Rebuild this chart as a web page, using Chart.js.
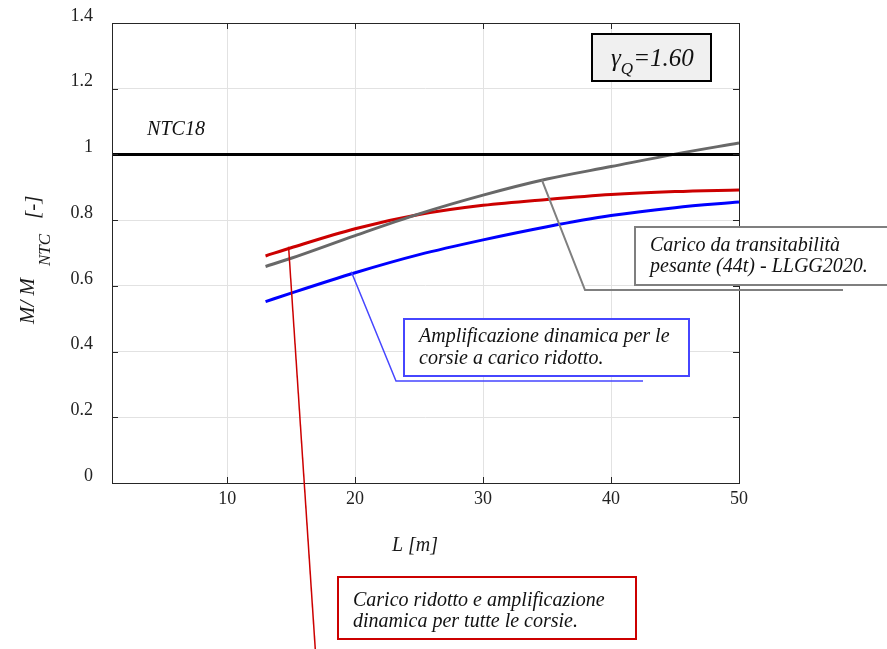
<!DOCTYPE html>
<html>
<head>
<meta charset="utf-8">
<script src="https://cdn.jsdelivr.net/npm/chart.js@4.4.1/dist/chart.umd.min.js"></script>
<style>
  html, body { margin: 0; padding: 0; background: #ffffff; }
  #wrap { width: 887px; height: 649px; position: relative; }
</style>
</head>
<body>
<div id="wrap"><canvas id="c" width="887" height="649"></canvas></div>
<script>
// ---- data ----
const spanL = [13, 15, 20, 25, 30, 35, 40, 45, 50];
const redSeries  = [0.691, 0.716, 0.774, 0.817, 0.845, 0.863, 0.878, 0.887, 0.892];
const graySeries = [0.659, 0.684, 0.753, 0.819, 0.876, 0.925, 0.963, 1.001, 1.035];
const blueSeries = [0.552, 0.578, 0.640, 0.695, 0.740, 0.780, 0.814, 0.838, 0.855];
const ntcLevel = 1.0;
const xRange = [1, 50];
const yRange = [0, 1.4];
const xTicks = [10, 20, 30, 40, 50];
const yTicks = [0, 0.2, 0.4, 0.6, 0.8, 1.0, 1.2, 1.4];

// annotation anchors (data coordinates on the curves)
const redAnchor  = [14.8, 0.719];
const blueAnchor = [19.7, 0.643];
const grayAnchor = [34.6, 0.922];

const redLabel  = ["Carico ridotto e amplificazione", "dinamica per tutte le corsie."];
const blueLabel = ["Amplificazione dinamica per le", "corsie a carico ridotto."];
const grayLabel = ["Carico da transitabilità", "pesante (44t) - LLGG2020."];
const ntcLabel = "NTC18";
const gammaLabel = ["γ", "Q", "=1.60"];
const xTitle = "L [m]";
const yTitle = ["M/ M", "NTC", "[-]"];

const SERIF = '"Liberation Serif", "Times New Roman", serif';
const RED = '#cc0000', GRAY = '#686868', BLUE = '#0000ff';

function pts(xs, ys) { return xs.map((x, i) => ({ x: x, y: ys[i] })); }

const overlay = {
  id: 'overlay',
  afterDatasetsDraw(chart) {
    const ctx = chart.ctx, a = chart.chartArea;
    const xs = chart.scales.x, ys = chart.scales.y;
    ctx.save();
    ctx.strokeStyle = '#262626';
    ctx.lineWidth = 1;
    ctx.strokeRect(Math.round(a.left) + 0.5, Math.round(a.top) + 0.5,
                   Math.round(a.right - a.left), Math.round(a.bottom - a.top));
    ctx.beginPath();
    xTicks.forEach(v => {
      const px = Math.round(xs.getPixelForValue(v)) + 0.5;
      ctx.moveTo(px, a.bottom); ctx.lineTo(px, a.bottom - 6);
      ctx.moveTo(px, a.top); ctx.lineTo(px, a.top + 6);
    });
    yTicks.forEach(v => {
      const py = Math.round(ys.getPixelForValue(v)) + 0.5;
      ctx.moveTo(a.left, py); ctx.lineTo(a.left + 6, py);
      ctx.moveTo(a.right, py); ctx.lineTo(a.right - 6, py);
    });
    ctx.stroke();
    ctx.restore();
  },
  afterDraw(chart) {
    const ctx = chart.ctx;
    const xs = chart.scales.x, ys = chart.scales.y;
    const P = (d) => [xs.getPixelForValue(d[0]), ys.getPixelForValue(d[1])];
    ctx.save();
    ctx.fillStyle = '#111';
    ctx.textBaseline = 'alphabetic';

    // NTC18 label
    ctx.font = 'italic 20px ' + SERIF;
    ctx.textAlign = 'center';
    ctx.fillText(ntcLabel, 176, 135);

    // x title
    ctx.fillStyle = '#1a1a1a';
    ctx.fillText(xTitle, 415, 551);

    // y title (rotated)
    ctx.save();
    ctx.translate(34, 324);
    ctx.rotate(-Math.PI / 2);
    ctx.textAlign = 'left';
    ctx.font = 'italic 21px ' + SERIF;
    ctx.fillText(yTitle[0], 0, 0);
    ctx.font = 'italic 17px ' + SERIF;
    ctx.fillText(yTitle[1], 58, 16);
    ctx.font = 'italic 21px ' + SERIF;
    ctx.fillText(yTitle[2], 105, 5);
    ctx.restore();

    // gamma box
    ctx.fillStyle = '#f0f0f0';
    ctx.fillRect(592, 34, 119, 47);
    ctx.strokeStyle = '#000';
    ctx.lineWidth = 2;
    ctx.strokeRect(592, 34, 119, 47);
    ctx.fillStyle = '#111';
    ctx.textAlign = 'left';
    ctx.font = 'italic 25px ' + SERIF;
    ctx.fillText(gammaLabel[0], 611, 66);
    let gw = ctx.measureText(gammaLabel[0]).width;
    ctx.font = 'italic 17px ' + SERIF;
    ctx.fillText(gammaLabel[1], 611 + gw, 74);
    let qw = ctx.measureText(gammaLabel[1]).width;
    ctx.font = 'italic 25px ' + SERIF;
    ctx.fillText(gammaLabel[2], 611 + gw + qw, 66);

    // leader lines
    ctx.lineWidth = 1.5;
    const rp = P(redAnchor);
    ctx.strokeStyle = RED;
    ctx.beginPath();
    ctx.moveTo(rp[0], rp[1]);
    ctx.lineTo(316, 660);
    ctx.stroke();
    const bp = P(blueAnchor);
    ctx.strokeStyle = '#4646ff';
    ctx.beginPath();
    ctx.moveTo(bp[0], bp[1]);
    ctx.lineTo(396, 381);
    ctx.lineTo(643, 381);
    ctx.stroke();
    const gp = P(grayAnchor);
    ctx.strokeStyle = '#7f7f7f';
    ctx.lineWidth = 2;
    ctx.beginPath();
    ctx.moveTo(gp[0], gp[1]);
    ctx.lineTo(585, 290);
    ctx.lineTo(843, 290);
    ctx.stroke();

    function box(x, y, w, h, color, lines, tx, ty, lh) {
      ctx.fillStyle = '#ffffff';
      ctx.fillRect(x, y, w, h);
      ctx.strokeStyle = color;
      ctx.lineWidth = 2;
      ctx.strokeRect(x, y, w, h);
      ctx.fillStyle = '#111';
      ctx.font = 'italic 20px ' + SERIF;
      ctx.textAlign = 'left';
      lines.forEach((s, i) => ctx.fillText(s, tx, ty + i * lh));
    }
    box(404, 319, 285, 57, '#4646ff', blueLabel, 419, 342, 22);
    box(635, 227, 260, 58, '#7f7f7f', grayLabel, 650, 251, 21);
    box(338, 577, 298, 62, RED, redLabel, 353, 606, 21);

    ctx.restore();
  }
};

new Chart(document.getElementById('c'), {
  type: 'line',
  data: {
    datasets: [
      { data: pts(xRange, [ntcLevel, ntcLevel]), borderColor: '#000000', borderWidth: 3, pointRadius: 0, tension: 0 },
      { data: pts(spanL, graySeries), borderColor: GRAY, borderWidth: 3, pointRadius: 0, cubicInterpolationMode: 'monotone' },
      { data: pts(spanL, redSeries),  borderColor: RED,  borderWidth: 3, pointRadius: 0, cubicInterpolationMode: 'monotone' },
      { data: pts(spanL, blueSeries), borderColor: BLUE, borderWidth: 3, pointRadius: 0, cubicInterpolationMode: 'monotone' }
    ]
  },
  options: {
    responsive: false,
    animation: false,
    layout: { padding: { left: 0, right: 148, top: 23, bottom: 0 } },
    plugins: { legend: { display: false }, tooltip: { enabled: false } },
    scales: {
      x: {
        type: 'linear', min: xRange[0], max: xRange[1],
        afterBuildTicks: s => { s.ticks = xTicks.map(v => ({ value: v })); },
        afterFit: s => { s.height = 166; s.paddingLeft = 0; s.paddingRight = 0; },
        grid: { color: '#e2e2e2', lineWidth: 1, drawTicks: false },
        border: { display: false },
        ticks: { padding: 5, color: '#222222', font: { family: SERIF, size: 18 },
                 callback: v => String(v), maxRotation: 0, autoSkip: false }
      },
      y: {
        type: 'linear', min: yRange[0], max: yRange[1],
        afterBuildTicks: s => { s.ticks = yTicks.map(v => ({ value: v })); },
        afterFit: s => { s.width = 112; s.paddingTop = 0; s.paddingBottom = 0; },
        grid: { color: '#e2e2e2', lineWidth: 1, drawTicks: false },
        border: { display: false },
        ticks: { padding: 19, labelOffset: -7, color: '#222222', font: { family: SERIF, size: 18 },
                 callback: v => String(Number(v.toFixed(1))), autoSkip: false }
      }
    }
  },
  plugins: [overlay]
});
</script>
</body>
</html>
